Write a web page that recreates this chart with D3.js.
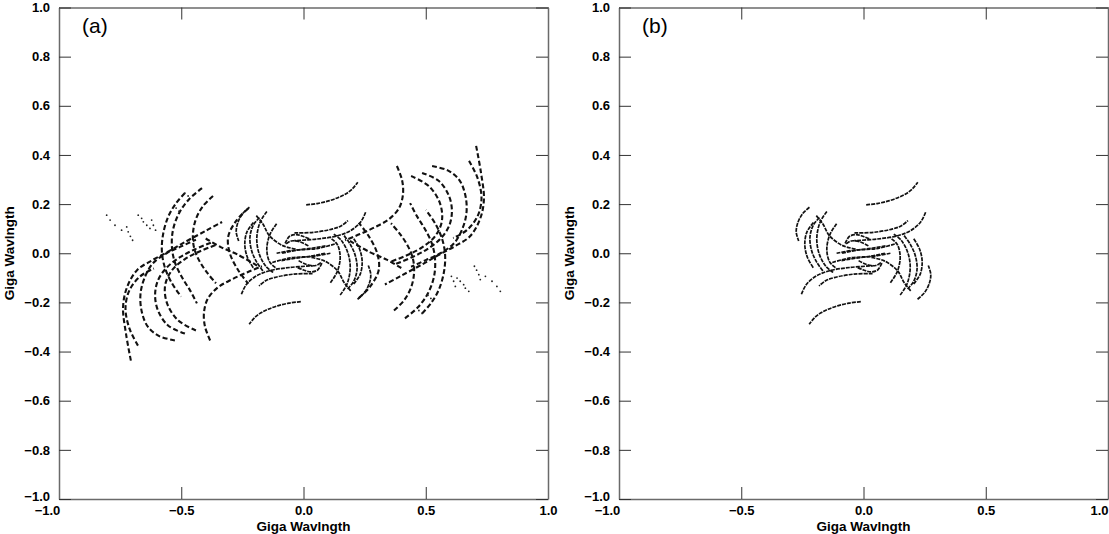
<!DOCTYPE html>
<html>
<head>
<meta charset="utf-8">
<script src="https://cdn.jsdelivr.net/npm/d3@7"></script>
<style>
  body { margin: 0; background: #fff; }
  svg { display: block; }
  text { font-family: "Liberation Sans", Arial, sans-serif; }
</style>
</head>
<body>
<svg id="chart" width="1109" height="534"></svg>
<script>
// ---- labels and ticks ----
const panelLabels = ["(a)", "(b)"];
const axisTitle = "Giga Wavlngth";
const xTickValues = [-1, -0.5, 0, 0.5, 1];
const yTickValues = [-1, -0.8, -0.6, -0.4, -0.2, 0, 0.2, 0.4, 0.6, 0.8, 1];

// ---- uv tracks, in giga-wavelengths: [u, v] samples along each baseline ----
// Short baselines: drawn in both panels.
const innerTracks = [
  [[0.011, 0.197], [0.060, 0.203], [0.106, 0.214], [0.145, 0.228], [0.174, 0.242], [0.200, 0.262], [0.222, 0.289]],
  [[-0.037, 0.083], [0.040, 0.085], [0.120, 0.099], [0.155, 0.112], [0.182, 0.133]],
  [[-0.254, -0.167], [-0.233, -0.126], [-0.192, -0.092], [-0.139, -0.071], [-0.057, -0.058], [0.038, -0.051]],
  [[-0.221, 0.187], [-0.250, 0.160], [-0.270, 0.120], [-0.275, 0.085], [-0.265, 0.050]],
  [[-0.205, 0.125], [-0.232, 0.085], [-0.240, 0.035], [-0.230, -0.015], [-0.205, -0.060]],
  [[-0.180, 0.145], [-0.205, 0.115], [-0.219, 0.065], [-0.212, 0.010], [-0.192, -0.035], [-0.166, -0.072]],
  [[-0.150, 0.170], [-0.178, 0.125], [-0.191, 0.060], [-0.182, 0.000], [-0.155, -0.052], [-0.124, -0.078]],
  [[-0.110, 0.120], [-0.138, 0.075], [-0.150, 0.015], [-0.138, -0.036], [-0.110, -0.062]],
  [[-0.193, 0.153], [-0.166, 0.119], [-0.139, 0.071], [-0.085, 0.031], [-0.030, 0.017]],
  [[-0.075, 0.040], [-0.058, 0.068], [-0.030, 0.076], [0.000, 0.068], [0.025, 0.058]],
  [[-0.110, 0.000], [-0.042, 0.012], [0.054, 0.019], [0.136, 0.040]],
  [[-0.090, -0.030], [-0.030, -0.020], [0.030, -0.012], [0.090, 0.000]],
  [[-0.020, -0.030], [0.010, -0.045], [0.050, -0.050], [0.075, -0.035]]
];

// Long baselines: drawn in panel (a) only.
const outerTracks = [
  [[-0.706, -0.437], [-0.726, -0.327], [-0.738, -0.220], [-0.722, -0.139], [-0.681, -0.069], [-0.620, -0.029], [-0.558, 0.004], [-0.493, 0.041], [-0.395, 0.094], [-0.333, 0.127]],
  [[-0.677, -0.376], [-0.712, -0.306], [-0.728, -0.224], [-0.712, -0.151], [-0.668, -0.094], [-0.612, -0.062]],
  [[-0.526, -0.355], [-0.590, -0.337], [-0.636, -0.300], [-0.661, -0.240], [-0.667, -0.170], [-0.652, -0.105], [-0.616, -0.041], [-0.560, 0.000], [-0.500, 0.028], [-0.440, 0.055]],
  [[-0.485, -0.327], [-0.554, -0.294], [-0.595, -0.233], [-0.607, -0.171], [-0.595, -0.110], [-0.558, -0.057], [-0.505, -0.016], [-0.444, 0.016], [-0.374, 0.045]],
  [[-0.440, -0.314], [-0.513, -0.273], [-0.558, -0.204], [-0.566, -0.131], [-0.538, -0.069], [-0.485, -0.024], [-0.423, 0.008], [-0.350, 0.037]],
  [[-0.382, -0.355], [-0.403, -0.298], [-0.407, -0.241], [-0.391, -0.184], [-0.350, -0.139], [-0.292, -0.106], [-0.231, -0.078], [-0.170, -0.053]],
  [[-0.485, 0.245], [-0.521, 0.204], [-0.554, 0.147], [-0.575, 0.073], [-0.579, 0.004], [-0.566, -0.061], [-0.538, -0.122], [-0.501, -0.176]],
  [[-0.415, 0.265], [-0.468, 0.220], [-0.509, 0.163], [-0.534, 0.094], [-0.538, 0.024], [-0.526, -0.037], [-0.497, -0.098], [-0.464, -0.151], [-0.436, -0.204]],
  [[-0.370, 0.233], [-0.411, 0.192], [-0.440, 0.139], [-0.452, 0.082], [-0.448, 0.024], [-0.427, -0.029], [-0.395, -0.078], [-0.358, -0.122]],
  [[-0.226, 0.182], [-0.273, 0.135], [-0.308, 0.067], [-0.301, -0.001], [-0.267, -0.069], [-0.226, -0.124]],
  [[-0.400, 0.060], [-0.340, 0.026], [-0.270, -0.005], [-0.190, -0.050]]
];

// Isolated samples from briefly-tracked baselines (panel (a) only).
const sparseSamples = [
  [-0.805, 0.155], [-0.791, 0.135], [-0.771, 0.114], [-0.744, 0.094],
  [-0.723, 0.107], [-0.717, 0.087], [-0.708, 0.069], [-0.699, 0.053],
  [-0.676, 0.155], [-0.662, 0.142], [-0.655, 0.128], [-0.641, 0.114], [-0.628, 0.101],
  [-0.621, 0.135], [-0.614, 0.114], [-0.605, 0.094],
  [-0.485, 0.245], [-0.472, 0.233], [-0.521, 0.184], [-0.509, 0.171]
];

// Every baseline samples both (u, v) and its Hermitian conjugate (-u, -v).
const conj = pts => pts.map(([u, v]) => [-u, -v]);
const withConjugates = tracks => tracks.flatMap(t => [t, conj(t)]);

// ---- layout ----
const svg = d3.select("#chart");
const svgWidth = +svg.attr("width");
const plotW = 489, plotTop = 7.5, plotBottom = 499;

const panels = [
  { label: panelLabels[0], left: 59, inner: innerTracks, outer: outerTracks, dots: sparseSamples },
  { label: panelLabels[1], left: 619, inner: innerTracks, outer: [], dots: [] }
];

panels.forEach(p => {
  const x = d3.scaleLinear().domain([-1, 1]).range([p.left, p.left + plotW]);
  const y = d3.scaleLinear().domain([-1, 1]).range([plotBottom, plotTop]);
  const g = svg.append("g");

  const line = d3.line()
    .x(d => x(d[0]))
    .y(d => y(d[1]))
    .curve(d3.curveCatmullRom.alpha(0.5));

  // long-baseline tracks: coarse dashes
  g.append("g")
    .selectAll("path")
    .data(withConjugates(p.outer))
    .join("path")
    .attr("d", line)
    .attr("fill", "none")
    .attr("stroke", "#111")
    .attr("stroke-width", 2.1)
    .attr("stroke-dasharray", "5,2.6");

  // short-baseline tracks: dense samples
  g.append("g")
    .selectAll("path")
    .data(withConjugates(p.inner))
    .join("path")
    .attr("d", line)
    .attr("fill", "none")
    .attr("stroke", "#111")
    .attr("stroke-width", 1.7)
    .attr("stroke-dasharray", "4,1");

  g.append("g")
    .selectAll("circle")
    .data(p.dots.concat(conj(p.dots)))
    .join("circle")
    .attr("cx", d => x(d[0]))
    .attr("cy", d => y(d[1]))
    .attr("r", 0.9)
    .attr("fill", "#222");

  // frame with inward ticks on all four sides
  const styleAxis = sel => {
    sel.select(".domain").attr("stroke", "#6a6a6a").attr("stroke-width", 1.5);
    sel.selectAll(".tick line").attr("stroke", "#333").attr("stroke-width", 1);
    sel.selectAll(".tick text")
      .attr("fill", "#000")
      .attr("font-size", 13)
      .attr("font-weight", "bold")
      .attr("font-family", "'Liberation Sans', Arial, sans-serif");
  };

  const fmt = d3.format(".1f");

  g.append("g")
    .attr("transform", `translate(0,${plotBottom})`)
    .call(d3.axisBottom(x).tickValues(xTickValues).tickFormat(fmt)
      .tickSizeInner(-12).tickSizeOuter(0).tickPadding(7))
    .call(styleAxis)
    .call(s => s.selectAll(".tick text").filter(d => d === -1).attr("x", -12))
    .call(s => s.selectAll(".tick text").filter(d => d === 1)
      .attr("text-anchor", "end")
      .attr("x", Math.min(9, svgWidth - 1 - x(1))));

  g.append("g")
    .attr("transform", `translate(0,${plotTop})`)
    .call(d3.axisTop(x).tickValues(xTickValues).tickFormat("")
      .tickSizeInner(-12).tickSizeOuter(0))
    .call(styleAxis);

  g.append("g")
    .attr("transform", `translate(${p.left},0)`)
    .call(d3.axisLeft(y).tickValues(yTickValues).tickFormat(fmt)
      .tickSizeInner(-12).tickSizeOuter(0).tickPadding(9))
    .call(styleAxis)
    .call(s => s.selectAll(".tick text").filter(d => d === -1).attr("y", -3));

  g.append("g")
    .attr("transform", `translate(${p.left + plotW},0)`)
    .call(d3.axisRight(y).tickValues(yTickValues).tickFormat("")
      .tickSizeInner(-12).tickSizeOuter(0))
    .call(styleAxis);

  // axis titles and panel tag
  g.append("text")
    .attr("x", x(0))
    .attr("y", 531)
    .attr("text-anchor", "middle")
    .attr("font-size", 13.5)
    .attr("font-weight", "bold")
    .text(axisTitle);

  g.append("text")
    .attr("transform", `translate(${p.left - 45},${y(0)}) rotate(-90)`)
    .attr("text-anchor", "middle")
    .attr("font-size", 13.5)
    .attr("font-weight", "bold")
    .text(axisTitle);

  g.append("text")
    .attr("x", p.left + 23)
    .attr("y", 33)
    .attr("font-size", 21)
    .attr("font-family", "'DejaVu Sans', Verdana, sans-serif")
    .text(p.label);
});
</script>
</body>
</html>
